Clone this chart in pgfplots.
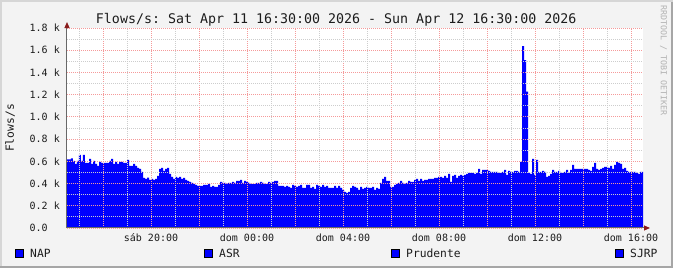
\documentclass[border=0pt]{standalone}
\usepackage{fontspec}
\setmainfont{DejaVu Sans Mono}
\usepackage{pgfplots}
\usepackage{pgfplotstable}
\pgfplotsset{compat=1.18}
\usetikzlibrary{arrows.meta}
\frenchspacing
\definecolor{rrdbg}{HTML}{F3F3F3}
\definecolor{mgrid}{HTML}{F59A9A}
\definecolor{mingrid}{HTML}{CDCDCD}
\definecolor{rrdaxis}{HTML}{686868}
\definecolor{rrdarrow}{HTML}{8A1C1C}
\definecolor{rrdblue}{HTML}{0000FF}
\definecolor{rrdfont}{HTML}{1C1C1C}

% minutes since Sat 16:30, flows/s
\pgfplotstableread{
m v
0 618
10 627
15 603
20 576
25 603
30 657
35 603
40 657
45 585
55 621
60 576
65 603
70 576
75 558
80 594
85 585
105 603
110 621
115 576
120 594
125 576
130 594
140 585
150 612
155 558
165 576
170 558
175 540
180 531
185 504
190 450
195 441
200 453
205 432
210 441
215 432
220 441
225 468
230 531
235 540
240 513
245 531
250 540
255 486
260 459
265 441
270 459
275 450
280 459
285 441
290 450
295 432
300 423
305 414
310 405
315 396
320 387
325 378
340 387
352.5 396
357.5 369
362.5 378
367.5 369
377.5 387
382.5 414
387.5 405
397.5 399
402.5 405
412.5 414
417.5 405
422.5 423
432.5 432
437.5 405
442.5 423
447.5 414
452.5 405
457.5 396
472.5 405
482.5 414
487.5 405
492.5 396
502.5 414
507.5 405
512.5 414
517.5 423
527.5 378
542.5 369
547.5 378
552.5 369
557.5 360
562.5 387
567.5 378
572.5 369
577.5 378
582.5 387
587.5 360
597.5 387
607.5 360
612.5 369
617.5 351
622.5 387
627.5 378
632.5 369
637.5 387
642.5 369
647.5 378
652.5 360
667.5 378
672.5 360
677.5 378
682.5 360
687.5 342
692.5 324
697.5 315
702.5 324
707.5 360
712.5 378
717.5 369
722.5 360
727.5 342
732.5 369
737.5 351
742.5 360
747.5 369
752.5 360
762.5 369
767.5 342
772.5 360
777.5 351
782.5 405
787.5 441
792.5 459
797.5 423
807.5 369
817.5 387
822.5 396
827.5 405
832.5 423
837.5 405
842.5 396
847.5 405
852.5 423
857.5 414
867.5 432
872.5 441
877.5 423
882.5 441
887.5 423
892.5 432
902.5 441
917.5 450
927.5 459
937.5 450
942.5 468
947.5 450
952.5 486
957.5 414
962.5 468
967.5 477
972.5 450
977.5 468
982.5 477
987.5 468
992.5 477
997.5 486
1002.5 495
1017.5 486
1022.5 495
1027.5 531
1032.5 486
1037.5 522
1052.5 513
1057.5 504
1077.5 495
1087.5 504
1092.5 522
1097.5 477
1102.5 513
1107.5 504
1117.5 513
1127.5 504
1132.5 594
1137.5 1638
1142.5 1512
1147.5 1227
1152.5 495
1157.5 486
1162.5 621
1167.5 477
1172.5 612
1177.5 504
1187.5 513
1192.5 504
1197.5 459
1202.5 468
1207.5 486
1212.5 522
1217.5 504
1227.5 513
1232.5 495
1242.5 504
1247.5 522
1252.5 495
1257.5 522
1262.5 567
1267.5 531
1302.5 522
1307.5 513
1312.5 549
1317.5 585
1322.5 531
1327.5 522
1332.5 531
1337.5 540
1342.5 549
1352.5 540
1357.5 558
1362.5 531
1367.5 567
1372.5 594
1377.5 585
1382.5 576
1387.5 531
1392.5 540
1397.5 513
1402.5 504
1422.5 495
1427.5 486
1432.5 504
1440 504
}\flows

\begin{document}
\begin{tikzpicture}[x=1pt,y=1pt]
\fill[rrdbg] (0,0) rectangle (673,268);
\useasboundingbox (0,0) rectangle (673,268);
\fill[black!16] (0,0) rectangle (2,268);
\fill[black!16] (0,266) rectangle (673,268);
\fill[black!35] (0,0) rectangle (673,2);
\fill[black!35] (671,0) rectangle (673,266);
\begin{axis}[
  width=576pt, height=200pt, scale only axis,
  at={(67pt,40pt)}, anchor=south west,
  xmin=0, xmax=1440, ymin=0, ymax=1800,
  axis background/.style={fill=white},
  axis lines=left,
  axis line style={draw=rrdaxis, line width=1pt},
  x axis line style={-{Triangle[color=rrdarrow,length=6pt,width=5pt]}, shorten >=-7pt},
  y axis line style={-{Triangle[color=rrdarrow,length=6pt,width=5pt]}, shorten >=-6pt},
  axis on top,
  grid=both,
  major grid style={draw=mgrid, line width=0.8pt, dash pattern=on 1pt off 1pt},
  minor grid style={draw=mingrid, line width=0.8pt, dash pattern=on 1pt off 1pt},
  xtick={90,210,330,450,570,690,810,930,1050,1170,1290,1410},
  xticklabels={,sáb 20:00,,dom 00:00,,dom 04:00,,dom 08:00,,dom 12:00,,dom 16:00},
  minor xtick={30,150,270,390,510,630,750,870,990,1110,1230,1350},
  ytick={0,200,400,600,800,1000,1200,1400,1600,1800},
  yticklabels={0.0\phantom{ k},0.2 k,0.4 k,0.6 k,0.8 k,1.0 k,1.2 k,1.4 k,1.6 k,1.8 k},
  minor ytick={100,300,500,700,900,1100,1300,1500,1700},
  major tick length=0pt, minor tick length=0pt,
  /pgf/number format/assume math mode=true,
  tick label style={font=\fontsize{10}{12}\selectfont, text=rrdfont},
  xticklabel style={anchor=north, inner sep=0pt, yshift=-5.4pt, text height=7.6pt, text depth=2pt},
  yticklabel style={anchor=east, inner sep=0pt, xshift=-7pt},
]
\addplot[const plot, fill=rrdblue, draw=none] table[x=m, y=v] {\flows} \closedcycle;
\end{axis}
\node[anchor=base, inner sep=0pt, text=rrdfont, font=\fontsize{13.3}{16}\selectfont] at (336.2,244) {Flows/s: Sat Apr 11 16:30:00 2026 - Sun Apr 12 16:30:00 2026};
\node[rotate=90, inner sep=0pt, text=rrdfont, font=\fontsize{11.3}{13}\selectfont] at (10,140) {Flows/s};
\node[rotate=-90, anchor=west, inner sep=0pt, text=black!30, font=\fontsize{8.3}{10}\selectfont] at (663.5,263) {RRDTOOL / TOBI OETIKER};
\foreach \bx/\lab in {15/NAP,204/ASR,391/Prudente,615/SJRP}{
  \draw[black, line width=1pt, fill=rrdblue] (\bx+0.5,10.5) rectangle (\bx+8.5,18.5);
  \node[anchor=base west, inner sep=0pt, text=rrdfont, font=\fontsize{11.3}{13}\selectfont] at (\bx+15,10) {\lab};
}
\end{tikzpicture}
\end{document}
